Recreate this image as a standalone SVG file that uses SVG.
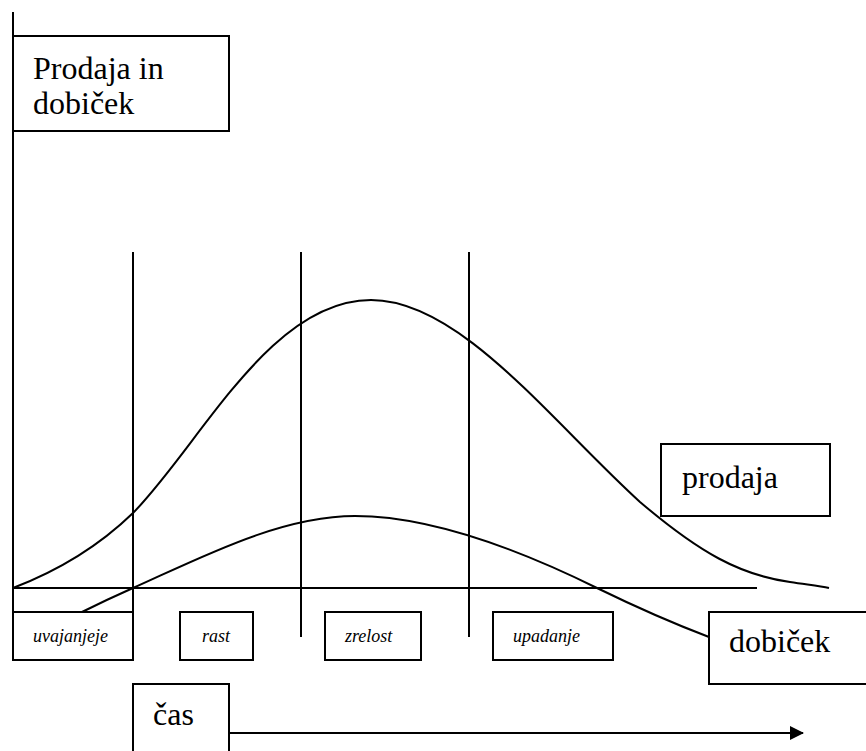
<svg xmlns="http://www.w3.org/2000/svg" width="866" height="751" viewBox="0 0 866 751">
<defs>
<style>
.box{fill:#fff;stroke:#000;stroke-width:2}
.ln{fill:none;stroke:#000;stroke-width:2}
.big{font-family:"Liberation Serif","Times New Roman",serif;font-size:32px;fill:#000}
.sm{font-family:"Liberation Serif","Times New Roman",serif;font-size:18px;font-style:italic;fill:#000}
</style>
<marker id="arr" viewBox="0 0 14 14" refX="13" refY="7" markerWidth="14" markerHeight="14" markerUnits="userSpaceOnUse" orient="auto">
<path d="M0,0 L14,7 L0,14 Z" fill="#000"/>
</marker>
</defs>
<rect width="866" height="751" fill="#fff"/>
<g id="connectors">
<line class="ln" x1="13" y1="12" x2="13" y2="612"/>
<line class="ln" x1="13" y1="588" x2="757" y2="588"/>
<line class="ln" x1="133" y1="252" x2="133" y2="612"/>
<line class="ln" x1="301" y1="252" x2="301" y2="637"/>
<line class="ln" x1="469" y1="252" x2="469" y2="637"/>
<path id="sales-curve" class="ln" d="M13,588 C60,570 100,545 133,513 C200,445 270,300 371,300 C460,300 550,420 640,502 C700,553 740,575 790,582 C810,585 820,586 829,588"/>
<path id="profit-curve" class="ln" d="M82,612 C100,603 115,596 133,588 C200,558 280,516 355,516 C430,516 520,550 597,588 C640,609 680,626 709,637"/>
<line class="ln" x1="229" y1="733" x2="803" y2="733" marker-end="url(#arr)"/>
</g>
<g id="node-prodaja-in-dobicek">
<rect class="box" x="13" y="36" width="216" height="95"/>
<text class="big" x="33" y="79">Prodaja in</text>
<text class="big" x="33" y="114">dobiček</text>
</g>
<g id="node-prodaja">
<rect class="box" x="661" y="444" width="169" height="72"/>
<text class="big" x="682" y="488">prodaja</text>
</g>
<g id="node-uvajanjeje">
<rect class="box" x="13" y="612" width="120" height="48"/>
<text class="sm" x="33" y="642">uvajanjeje</text>
</g>
<g id="node-rast">
<rect class="box" x="180" y="612" width="73" height="48"/>
<text class="sm" x="202" y="642">rast</text>
</g>
<g id="node-zrelost">
<rect class="box" x="325" y="612" width="96" height="48"/>
<text class="sm" x="345" y="642">zrelost</text>
</g>
<g id="node-upadanje">
<rect class="box" x="493" y="612" width="120" height="48"/>
<text class="sm" x="513" y="642">upadanje</text>
</g>
<g id="node-dobicek">
<rect class="box" x="709" y="612" width="170" height="72"/>
<text class="big" x="729" y="652">dobiček</text>
</g>
<g id="node-cas">
<rect class="box" x="133" y="684" width="96" height="80"/>
<text class="big" x="153" y="725">čas</text>
</g>
</svg>
